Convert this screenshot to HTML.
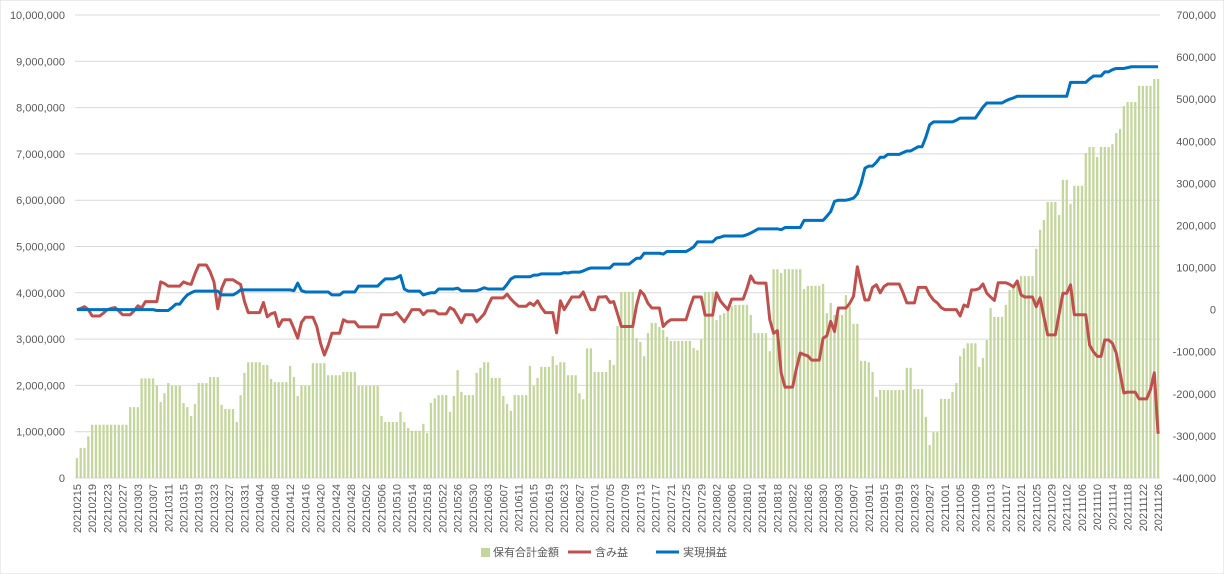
<!DOCTYPE html>
<html><head><meta charset="utf-8"><style>
html,body{margin:0;padding:0;background:#fff;}
svg{display:block;font-family:"Liberation Sans","Noto Sans CJK JP",sans-serif;}
</style></head><body>
<svg id="chart" width="1224" height="574" viewBox="0 0 1224 574" xmlns="http://www.w3.org/2000/svg">
<rect x="0" y="0" width="1224" height="574" fill="#fff" stroke="#d9d9d9"/>
<g id="grid"></g>
<g id="bars"></g>
<g id="lines"></g>
<g id="yl"></g>
<g id="yr"></g>
<g id="xl"></g>
<g font-size="11" fill="#595959">
  <g><rect x="481" y="548" width="9" height="9" fill="#c3d69b"/><text x="493" y="556">保有合計金額</text></g>
  <g><line x1="568" y1="552" x2="591" y2="552" stroke="#c0504d" stroke-width="3"/><text x="595" y="556">含み益</text></g>
  <g><line x1="656" y1="552" x2="679" y2="552" stroke="#0070c0" stroke-width="3"/><text x="683" y="556">実現損益</text></g>
</g>
</svg>
<script>
const startDate = "2021-02-15";
const leftTicks = [0,1000000,2000000,3000000,4000000,5000000,6000000,7000000,8000000,9000000,10000000];
const rightTicks = [-400000,-300000,-200000,-100000,0,100000,200000,300000,400000,500000,600000,700000];
// 保有合計金額 (millions)
const holdings = [.43,.65,.65,.9,1.15,1.15,1.15,1.15,1.15,1.15,1.15,1.15,1.15,1.15,1.53,1.53,1.53,2.15,2.15,2.15,2.15,2.0,1.64,1.83,2.05,1.99,1.99,1.99,1.62,1.53,1.34,1.6,2.05,2.05,2.05,2.18,2.18,2.18,1.58,1.49,1.49,1.49,1.21,1.79,2.27,2.5,2.5,2.5,2.5,2.44,2.44,2.14,2.07,2.07,2.07,2.07,2.42,2.18,1.77,1.99,1.99,1.99,2.48,2.48,2.48,2.48,2.22,2.22,2.22,2.22,
2.29,2.29,2.29,2.29,1.99,1.99,1.99,1.99,1.99,1.99,1.34,1.21,1.21,1.21,1.21,1.43,1.21,1.08,1.02,1.02,1.02,1.17,.97,1.62,1.72,1.79,1.79,1.79,1.43,1.77,2.33,1.86,1.79,1.79,1.79,2.27,2.38,2.5,2.5,2.16,2.16,2.16,1.77,1.6,1.45,1.79,1.79,1.79,1.79,2.42,1.99,2.16,2.4,2.4,2.4,2.63,2.44,2.5,2.5,2.22,2.22,2.22,1.83,1.7,2.8,2.8,2.29,2.29,2.29,
2.29,2.55,2.44,3.28,4.02,4.02,4.02,4.02,3.02,2.94,2.63,3.13,3.35,3.35,3.26,3.2,3.05,2.96,2.96,2.96,2.96,2.96,2.96,2.81,2.76,3.0,4.02,4.02,4.02,3.41,3.52,3.56,3.63,3.71,3.74,3.74,3.74,3.74,3.52,3.13,3.13,3.13,3.13,2.74,4.51,4.51,4.43,4.51,4.51,4.51,4.51,4.51,4.08,4.15,4.15,4.15,4.15,4.19,3.56,3.78,3.52,3.52,3.52,3.95,3.71,3.33,3.33,2.53,2.53,
2.5,2.29,1.75,1.9,1.9,1.9,1.9,1.9,1.9,1.9,2.38,2.38,1.92,1.92,1.92,1.32,.71,.99,.99,1.71,1.71,1.71,1.86,2.05,2.63,2.8,2.91,2.91,2.91,2.4,2.59,2.98,3.67,3.48,3.48,3.48,3.74,4.06,4.17,4.21,4.36,4.36,4.36,4.36,4.95,5.36,5.57,5.96,5.96,5.96,5.68,6.44,6.44,5.92,6.31,6.31,6.31,7.02,7.15,7.15,6.93,7.15,7.15,7.15,7.21,7.45,7.54,8.03,8.12,8.12,8.12,8.47,8.47,8.47,8.47,8.62,8.62];
// 含み益 (thousands)
const unrealized = [0,3,7,0,-15,-15,-15,-8,0,3,5,-3,-12,-12,-12,-3,9,4,19,19,19,19,66,62,56,56,56,56,66,62,60,85,106,106,106,90,66,2,50,71,71,71,65,60,20,-7,-7,-7,-7,17,-17,-10,-7,-40,-24,-24,-24,-45,-68,-30,-18,-18,-18,-40,-80,-108,-85,-56,-56,-56,-24,-29,-29,-29,-41,-41,-41,-41,-41,-41,-12,-12,-12,-12,-7,-18,-29,-15,0,0,0,-12,-3,-3,-3,-10,-10,-10,5,0,-15,-31,-12,-12,-12,-29,-20,-10,10,28,28,28,28,37,25,16,8,8,8,16,10,21,5,-7,-7,-7,-55,21,0,15,30,30,30,42,20,0,0,30,30,
31,17,19,-10,-40,-40,-40,-40,10,45,35,15,4,4,4,-40,-30,-24,-24,-24,-24,-24,5,30,30,30,-13,-13,-13,40,21,10,0,25,25,25,25,50,80,65,63,63,63,-24,-56,-50,-151,-184,-184,-184,-140,-103,-107,-110,-120,-120,-120,-68,-62,-28,-52,4,4,4,15,32,102,60,23,
23,53,59,40,55,61,61,61,61,40,16,16,16,53,53,53,35,23,16,5,0,0,0,0,-15,11,7,47,47,50,61,39,30,22,64,64,64,60,54,68,35,30,30,30,7,28,-17,-60,-60,-60,-10,39,39,59,-12,-12,-12,-12,-84,-100,-111,-111,-72,-72,-80,-103,-150,-198,-196,-196,-196,-212,-212,-212,-190,-150,-295];
// 実現損益 (thousands)
const realized = [0,0,0,0,0,0,0,0,0,0,0,0,0,0,0,0,0,0,0,0,0,-2,-2,-2,-2,5,13,13,25,35,40,44,44,44,44,44,44,44,35,35,35,35,40,47,47,47,47,47,47,47,47,47,47,47,47,47,47,45,63,45,42,42,42,42,42,42,42,35,35,35,42,42,42,42,56,56,56,56,56,56,65,73,73,73,76,81,49,44,44,44,44,35,38,40,40,49,49,49,49,49,51,45,45,45,45,45,48,52,49,49,49,49,49,60,73,78,78,78,78,78,82,82,85,85,85,85,85,85,88,87,89,89,89,92,96,99,99,99,99,99,99,108,108,108,108,108,115,122,122,134,134,134,134,134,132,138,138,138,138,138,138,143,149,161,161,161,161,161,170,172,175,175,175,175,175,175,178,182,187,192,192,192,192,192,192,190,195,195,195,195,195,212,212,212,212,212,212,222,233,257,260,260,260,262,265,275,300,336,341,341,350,362,362,369,369,369,369,373,377,377,382,387,387,410,439,446,446,446,446,446,446,450,455,455,455,455,455,468,481,491,491,491,491,491,496,500,503,507,507,507,507,507,507,507,507,507,507,507,507,507,507,540,540,540,540,540,548,555,555,555,565,565,570,573,573,573,575,577,577,577,577,577,577,577,577];

const NS="http://www.w3.org/2000/svg";
const X0=75, X1=1160, YB=478, YT=15;
const N=holdings.length;
const bw=(X1-X0)/N;
const xAt=i=>X0+(i+0.5)*bw;
const yL=v=>YB-(v/10000000)*(YB-YT);
const yR=v=>YB-((v+400000)/1100000)*(YB-YT);
function mk(tag,attrs,parent){const e=document.createElementNS(NS,tag);for(const k in attrs)e.setAttribute(k,attrs[k]);parent.appendChild(e);return e;}
const fmt=v=>v.toLocaleString("en-US");
const grid=document.getElementById("grid"),yl=document.getElementById("yl"),yr=document.getElementById("yr");
leftTicks.forEach(v=>{
  const l=mk("line",{x1:X0,x2:X1,y1:yL(v),y2:yL(v),stroke:"#d9d9d9","stroke-width":1},grid);
  
  
  const t=mk("text",{x:65,y:yL(v)+4,"text-anchor":"end","font-size":11,fill:"#595959"},yl);
  t.textContent=fmt(v);
  
  
});
rightTicks.forEach(v=>{
  const t=mk("text",{x:1216,y:yR(v)+4,"text-anchor":"end","font-size":11,fill:"#595959"},yr);
  t.textContent=fmt(v);
  
  
});
const bars=document.getElementById("bars");
holdings.forEach((v,i)=>{
  const y=yL(v*1000000);
  const r=mk("rect",{x:xAt(i)-bw*0.3,y:y,width:bw*0.6,height:YB-y,fill:"#c3d69b"},bars);
  
  
});
const lines=document.getElementById("lines");
function path(arr,color,name){
  const d=arr.map((v,i)=>(i?"L":"M")+xAt(i).toFixed(2)+","+yR(v*1000).toFixed(2)).join("");
  const p=mk("path",{d:d,fill:"none",stroke:color,"stroke-width":3,"stroke-linejoin":"round"},lines);
  
  
}
path(unrealized,"#c0504d","unrealized-gain-line");
path(realized,"#0070c0","realized-gain-line");
const xl=document.getElementById("xl");
const sd=new Date(startDate+"T00:00:00Z");
for(let i=0;i<N;i+=4){
  const d=new Date(sd.getTime()+i*86400000);
  const s=d.getUTCFullYear()+String(d.getUTCMonth()+1).padStart(2,"0")+String(d.getUTCDate()).padStart(2,"0");
  const x=xAt(i)+4,y=484;
  const t=mk("text",{x:x,y:y,"text-anchor":"end","font-size":11,fill:"#595959",transform:"rotate(-90 "+x+" "+y+")"},xl);
  t.textContent=s;
  
  
}
</script>
</body></html>
